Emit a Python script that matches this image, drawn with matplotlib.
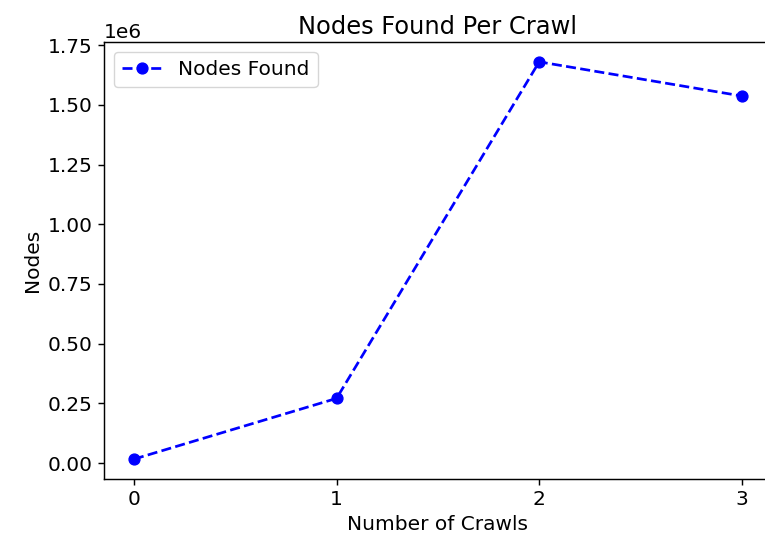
import matplotlib
matplotlib.use("Agg")
import matplotlib.pyplot as plt

# --- data ---
crawls = [0, 1, 2, 3]
nodes_found = [16700, 271000, 1680000, 1537000]

s = 1.3  # scale from default 10pt look
plt.rcParams['font.size'] = 14.5
plt.rcParams['axes.linewidth'] = 0.8 * s
plt.rcParams['xtick.major.width'] = 0.8 * s
plt.rcParams['ytick.major.width'] = 0.8 * s
plt.rcParams['xtick.major.size'] = 3.5 * s
plt.rcParams['ytick.major.size'] = 3.5 * s

fig = plt.figure(figsize=(7.65, 5.43), dpi=100)
ax = fig.add_axes([0.1354, 0.1179, 0.874, 0.8048])

ax.plot(crawls, nodes_found, 'o--', color='blue', linewidth=1.5 * s,
        markersize=6 * s, label='Nodes Found')

ax.set_xticks(crawls)
ax.set_title('Nodes Found Per Crawl')
ax.set_xlabel('Number of Crawls')
ax.set_ylabel('Nodes')
ax.legend(loc='upper left')

fig.savefig('out.png', dpi=100)
